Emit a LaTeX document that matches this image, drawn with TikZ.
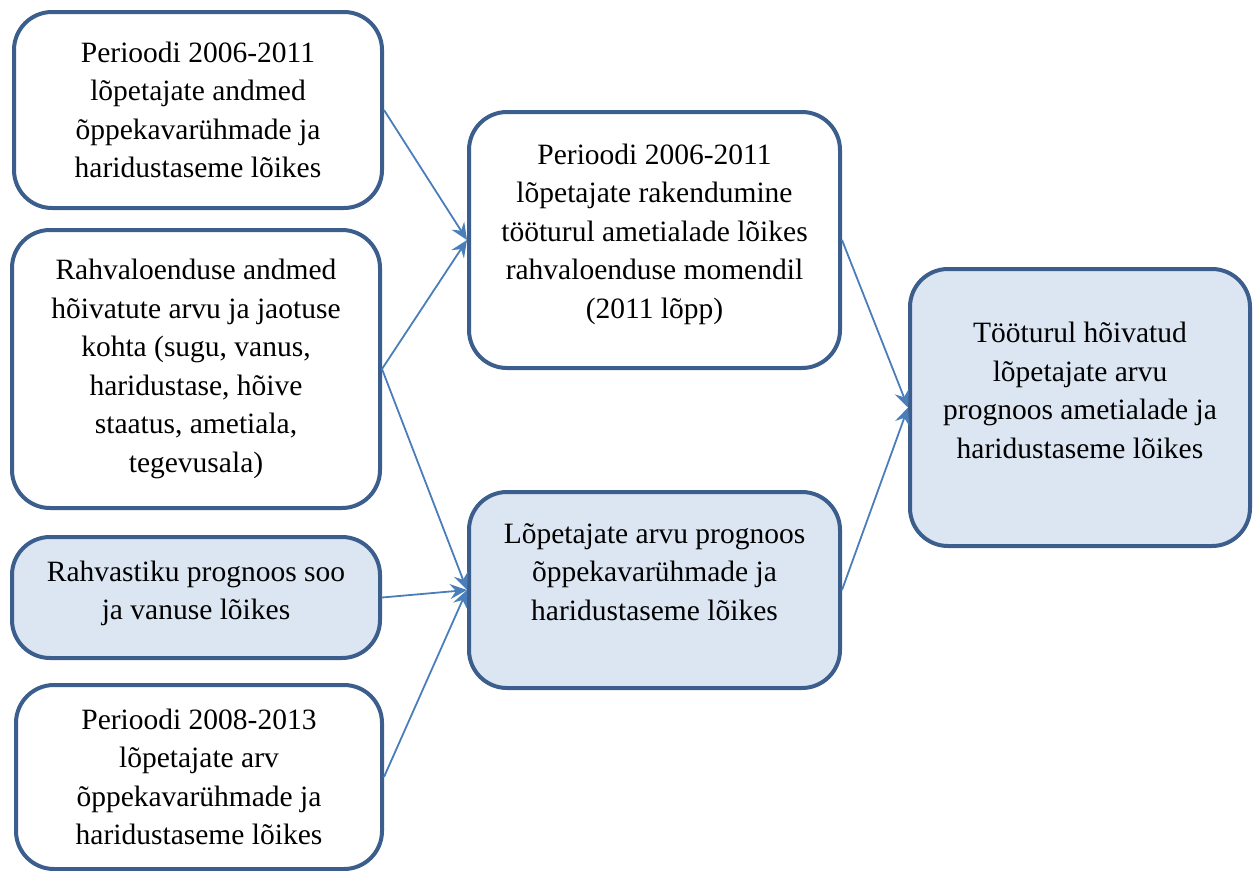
\documentclass[tikz,border=0pt]{standalone}
\usepackage{fontspec}
\setmainfont{Liberation Serif}
\usetikzlibrary{arrows.meta}
\definecolor{boxline}{HTML}{3B5E8C}
\definecolor{boxfill}{HTML}{DCE6F2}
\definecolor{arrowline}{HTML}{4A7EBB}
\tikzset{
  databox/.style={draw=boxline, line width=4pt, rounded corners=38pt, fill=white,
    align=center, inner sep=0pt, font=\fontsize{29.5}{38.5}\selectfont},
  resultbox/.style={databox, fill=boxfill},
  flow/.style={draw=arrowline, line width=1.8pt, -{Stealth[length=17pt,width=15pt,inset=6pt]}}
}

\begin{document}
\begin{tikzpicture}[x=1pt,y=-1pt]
\useasboundingbox (0,0) rectangle (1258,870);
%source data
\node[databox, minimum width=368pt, minimum height=196pt] (grads) at (198,110)
  {Perioodi 2006-2011\\lõpetajate andmed\\õppekavarühmade ja\\haridustaseme lõikes};
\node[databox, minimum width=368pt, minimum height=278pt] (census) at (196,369)
  {Rahvaloenduse andmed\\hõivatute arvu ja jaotuse\\kohta (sugu, vanus,\\haridustase, hõive\\staatus, ametiala,\\tegevusala)};
\node[resultbox, minimum width=368pt, minimum height=121pt, text depth=14.5pt] (popfc) at (196,597.5)
  {Rahvastiku prognoos soo\\ja vanuse lõikes};
\node[databox, minimum width=366pt, minimum height=184pt, text depth=0pt] (gradnum) at (199,777)
  {Perioodi 2008-2013\\lõpetajate arv\\õppekavarühmade ja\\haridustaseme lõikes};
%intermediate results
\node[databox, minimum width=371pt, minimum height=256pt, text depth=17.5pt] (employ) at (654.5,240)
  {Perioodi 2006-2011\\lõpetajate rakendumine\\tööturul ametialade lõikes\\rahvaloenduse momendil\\(2011 lõpp)};
\node[resultbox, minimum width=371pt, minimum height=196pt, text depth=36pt] (gradfc) at (654.5,590)
  {Lõpetajate arvu prognoos\\õppekavarühmade ja\\haridustaseme lõikes};
%final result
\node[resultbox, minimum width=340pt, minimum height=277pt, text depth=34pt] (jobfc) at (1080,407.5)
  {Tööturul hõivatud\\lõpetajate arvu\\prognoos ametialade ja\\haridustaseme lõikes};
%arrows
\draw[flow] (grads.east) -- (employ.west);
\draw[flow] (census.east) -- (employ.west);
\draw[flow] (census.east) -- (gradfc.west);
\draw[flow] (popfc.east) -- (gradfc.west);
\draw[flow] (gradnum.east) -- (gradfc.west);
\draw[flow] (employ.east) -- (jobfc.west);
\draw[flow] (gradfc.east) -- (jobfc.west);
\end{tikzpicture}
\end{document}
